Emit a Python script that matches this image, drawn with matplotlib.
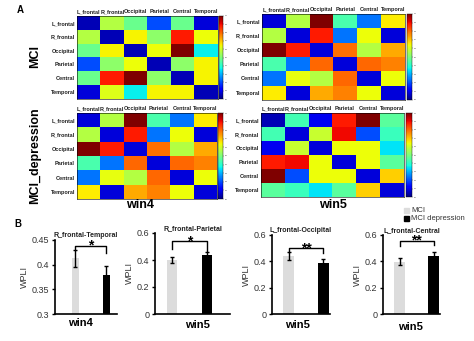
import matplotlib
matplotlib.use("Agg")
import matplotlib.pyplot as plt
import numpy as np

plt.rcParams["font.family"] = ["Liberation Sans", "DejaVu Sans"]

W, H = 474, 341

regions = ["L_frontal", "R_frontal", "Occipital", "Parietal", "Central", "Temporal"]

# connectivity matrices (relative WPLI, 0..1 on the colour scale)
mci_win4 = [
    [0.05, 0.57, 0.48, 0.20, 0.48, 0.08],
    [0.57, 0.05, 0.65, 0.52, 0.88, 0.64],
    [0.48, 0.65, 0.05, 0.64, 1.00, 0.36],
    [0.20, 0.52, 0.64, 0.05, 0.52, 0.65],
    [0.48, 0.88, 1.00, 0.52, 0.05, 0.65],
    [0.08, 0.62, 0.36, 0.65, 0.65, 0.05],
]
mci_win5 = [
    [0.08, 0.57, 1.00, 0.44, 0.24, 0.66],
    [0.57, 0.08, 0.88, 0.24, 0.64, 0.08],
    [1.00, 0.88, 0.08, 0.79, 0.57, 0.73],
    [0.44, 0.24, 0.80, 0.08, 0.80, 0.77],
    [0.24, 0.63, 0.57, 0.80, 0.08, 0.64],
    [0.66, 0.08, 0.73, 0.77, 0.64, 0.08],
]
dep_win4 = [
    [0.08, 0.57, 1.00, 0.44, 0.24, 0.66],
    [0.57, 0.08, 0.88, 0.24, 0.64, 0.08],
    [1.00, 0.88, 0.08, 0.79, 0.57, 0.73],
    [0.44, 0.24, 0.80, 0.08, 0.80, 0.77],
    [0.24, 0.63, 0.57, 0.80, 0.08, 0.64],
    [0.66, 0.08, 0.73, 0.77, 0.64, 0.08],
]
dep_win5 = [
    [0.05, 0.43, 0.10, 0.88, 1.00, 0.46],
    [0.43, 0.08, 0.59, 0.90, 0.20, 0.42],
    [0.10, 0.59, 0.08, 0.64, 0.64, 0.35],
    [0.88, 0.90, 0.64, 0.08, 0.64, 0.46],
    [1.00, 0.20, 0.64, 0.64, 0.08, 0.69],
    [0.46, 0.42, 0.35, 0.46, 0.69, 0.08],
]
cbar_ticks = np.linspace(0, 1, 11)

# bar panels: edge name, window, MCI mean/sem, MCI-depression mean/sem, stars
pairs = ["R_frontal-Temporal", "R_frontal-Parietal", "L_frontal-Occipital", "L_frontal-Central"]
windows = ["win4", "win5", "win5", "win5"]
mci_mean = [0.413, 0.40, 0.44, 0.398]
mci_sem = [0.017, 0.02, 0.028, 0.025]
dep_mean = [0.380, 0.44, 0.39, 0.443]
dep_sem = [0.017, 0.02, 0.025, 0.03]
stars = ["*", "*", "**", "**"]
ylims = [(0.3, 0.45), (0, 0.6), (0, 0.6), (0, 0.6)]
yticks = [[0.3, 0.35, 0.4, 0.45], [0, 0.2, 0.4, 0.6], [0, 0.2, 0.4, 0.6], [0, 0.2, 0.4, 0.6]]
ytick_labels = [["0.3", "0.35", "0.4", "0.45"]] + [["0", "0.2", "0.4", "0.6"]] * 3
bracket_top = [0.4385, 0.538, 0.50, 0.557]
bracket_ends = [(0.430, 0.423), (0.484, 0.470), (0.470, 0.465), (0.520, 0.525)]


def rect(x0, y0, x1, y1):
    return [x0 / W, 1 - y1 / H, (x1 - x0) / W, (y1 - y0) / H]


fig = plt.figure(figsize=(W / 100, H / 100), dpi=100)

heat_boxes = [
    (mci_win4, (77, 16, 218, 99), (219, 16, 223, 99)),
    (mci_win5, (262, 14, 405, 100), (407, 14, 412, 100)),
    (dep_win4, (77, 113, 217, 199), (218, 113, 223, 199)),
    (dep_win5, (261, 113, 404, 197), (406, 113, 412, 197)),
]
for mat, box, cbox in heat_boxes:
    ax = fig.add_axes(rect(*box))
    im = ax.imshow(np.array(mat), cmap="jet", vmin=0, vmax=1, aspect="auto",
                   interpolation="nearest")
    ax.xaxis.tick_top()
    ax.set_xticks(range(6))
    ax.set_xticklabels(regions, fontsize=4.0, fontweight="bold", color="#222222")
    ax.set_yticks(range(6))
    ax.set_yticklabels(regions, fontsize=4.0, fontweight="bold", color="#222222")
    ax.tick_params(length=0, pad=1.5)
    for s in ax.spines.values():
        s.set_linewidth(0.4)
    cax = fig.add_axes(rect(*cbox))
    cb = fig.colorbar(im, cax=cax, ticks=cbar_ticks)
    cb.ax.tick_params(labelsize=1.5, length=1, width=0.3, pad=0.5, colors="#555555")
    cb.outline.set_linewidth(0.3)

fig.text(20 / W, 1 - 10 / H, "A", fontsize=7, fontweight="bold", va="center", ha="center")
fig.text(35 / W, 1 - 57 / H, "MCI", fontsize=9, fontweight="bold", rotation=90,
         va="center", ha="center")
fig.text(35 / W, 1 - 156 / H, "MCI_depression", fontsize=9, fontweight="bold",
         rotation=90, va="center", ha="center")
fig.text(140 / W, 1 - 205 / H, "win4", fontsize=9, fontweight="bold", va="center", ha="center")
fig.text(333 / W, 1 - 205 / H, "win5", fontsize=9, fontweight="bold", va="center", ha="center")
fig.text(18 / W, 1 - 224 / H, "B", fontsize=7, fontweight="bold", va="center", ha="center")

# legend for the bar panels
for yy, col, lab in [(210, "#dcdcdc", "MCI"), (218, "black", "MCI depression")]:
    fig.patches.append(plt.Rectangle(((406 - 2.5) / W, 1 - (yy + 2.5) / H), 5 / W, 5 / H,
                                     transform=fig.transFigure, color=col, figure=fig))
    fig.text(411 / W, 1 - yy / H, lab, fontsize=5.5, va="center", ha="left", color="#333333")

bar_boxes = [(55, 240, 117, 314), (155, 233, 230, 314), (272, 235, 330, 314), (383, 235, 440, 314)]
bar_pos = [(0.33, 0.83), (0.23, 0.69), (0.29, 0.88), (0.29, 0.89)]
bar_w = [0.11, 0.13, 0.19, 0.19]
win_xy = [(80, 323), (197, 325), (297, 325), (410, 327)]
for i, box in enumerate(bar_boxes):
    ax = fig.add_axes(rect(*box))
    x1, x2 = bar_pos[i]
    lo = ylims[i][0]
    ax.bar(x1, mci_mean[i] - lo, bottom=lo, width=bar_w[i], color="#dcdcdc")
    ax.bar(x2, dep_mean[i] - lo, bottom=lo, width=bar_w[i], color="black")
    ax.errorbar([x1, x2], [mci_mean[i], dep_mean[i]], yerr=[mci_sem[i], dep_sem[i]],
                fmt="none", ecolor="black", elinewidth=1.0, capsize=1.5, capthick=1.0)
    bt = bracket_top[i]
    e1, e2 = bracket_ends[i]
    ax.plot([x1, x1, x2, x2], [e1, bt, bt, e2], color="black", lw=1.0, clip_on=False)
    ax.text((x1 + x2) / 2, bt, stars[i], fontsize=10, fontweight="bold",
            ha="center", va="center")
    ax.set_xlim(0, 1)
    ax.set_ylim(*ylims[i])
    ax.set_yticks(yticks[i])
    ax.set_yticklabels(ytick_labels[i], fontsize=6.5, color="#333333")
    ax.set_xticks([])
    ax.set_ylabel("WPLI", fontsize=6.5, color="#333333", labelpad=2)
    ax.set_title(pairs[i], fontsize=5, fontweight="bold", color="#222222", pad=2)
    for s in ["top", "right"]:
        ax.spines[s].set_visible(False)
    for s in ["left", "bottom"]:
        ax.spines[s].set_linewidth(1.2)
    ax.tick_params(axis="y", length=2, width=1.0, pad=2)
    fig.text(win_xy[i][0] / W, 1 - win_xy[i][1] / H, windows[i], fontsize=8,
             fontweight="bold", ha="center", va="center")

fig.savefig("out.png", dpi=100)
